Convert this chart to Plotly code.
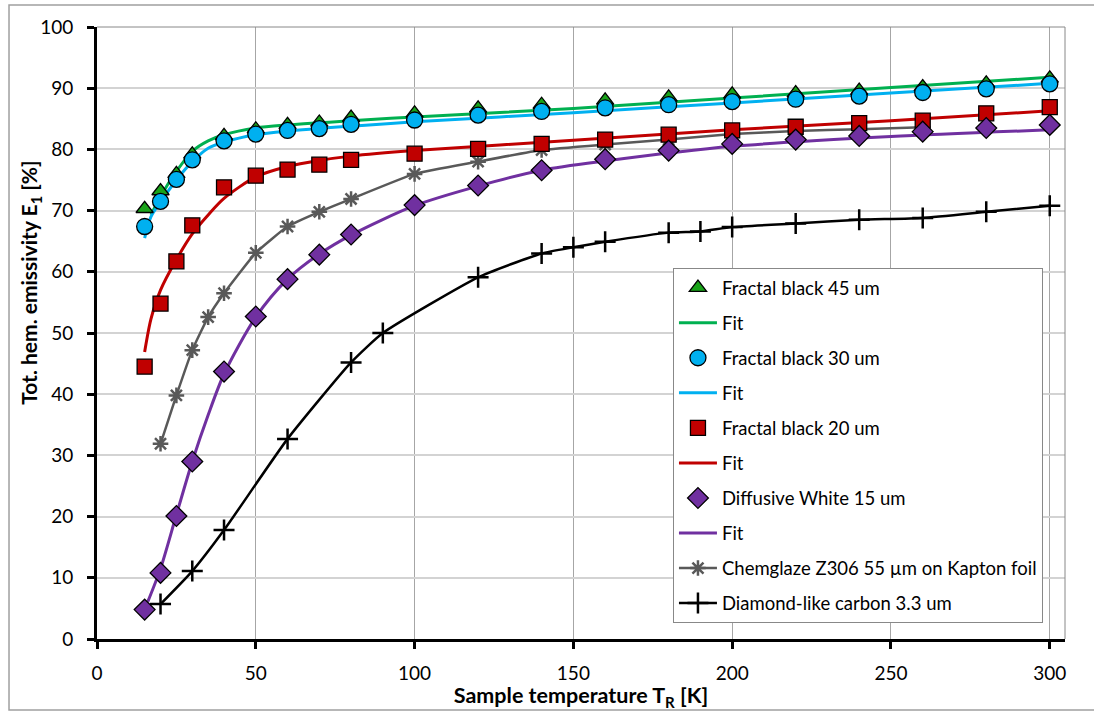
import plotly.graph_objects as go

# ---------------- data ----------------
T_fb45 = [15, 20, 25, 30, 40, 50, 60, 70, 80, 100, 120, 140, 160, 180, 200, 220, 240, 260, 280, 300]
E_fb45 = [70.3, 73.2, 76.0, 79.2, 82.2, 83.3, 84.0, 84.4, 85.2, 85.9, 86.7, 87.3, 88.0, 88.5, 89.0, 89.2, 89.6, 90.2, 90.8, 91.6]

T_fb30 = [15, 20, 25, 30, 40, 50, 60, 70, 80, 100, 120, 140, 160, 180, 200, 220, 240, 260, 280, 300]
E_fb30 = [67.4, 71.5, 75.1, 78.3, 81.4, 82.5, 83.1, 83.4, 84.1, 84.8, 85.6, 86.2, 86.8, 87.3, 87.8, 88.2, 88.7, 89.3, 89.9, 90.7]

T_fb20 = [15, 20, 25, 30, 40, 50, 60, 70, 80, 100, 120, 140, 160, 180, 200, 220, 240, 260, 280, 300]
E_fb20 = [44.5, 54.8, 61.7, 67.6, 73.8, 75.7, 76.7, 77.5, 78.3, 79.3, 80.1, 80.9, 81.6, 82.4, 83.1, 83.7, 84.3, 84.7, 85.9, 86.9]

T_dw15 = [15, 20, 25, 30, 40, 50, 60, 70, 80, 100, 120, 140, 160, 180, 200, 220, 240, 260, 280, 300]
E_dw15 = [4.8, 10.8, 20.1, 29.0, 43.7, 52.7, 58.8, 62.8, 66.1, 70.9, 74.1, 76.6, 78.4, 79.8, 80.9, 81.6, 82.2, 82.9, 83.5, 84.0]

T_chem = [20, 25, 30, 35, 40, 50, 60, 70, 80, 100, 120, 140, 160, 180, 200, 220, 240, 260]
E_chem = [31.9, 39.8, 47.2, 52.6, 56.5, 63.1, 67.4, 69.8, 71.9, 76.0, 78.0, 79.9, 80.8, 81.6, 82.5, 83.0, 83.3, 83.6]

T_dlc = [20, 30, 40, 60, 80, 90, 120, 140, 150, 160, 180, 190, 200, 220, 240, 260, 280, 300]
E_dlc = [5.7, 11.1, 17.8, 32.7, 45.2, 50.0, 59.1, 63.0, 64.0, 64.9, 66.4, 66.6, 67.3, 67.9, 68.5, 68.8, 69.8, 70.8]

# fit curves
T_fit45 = [17, 20, 25, 30, 35, 40, 50, 60, 80, 100, 150, 200, 250, 300]
E_fit45 = [69.3, 72.3, 76.4, 79.7, 81.4, 82.4, 83.5, 84.0, 84.7, 85.3, 86.7, 88.4, 90.1, 91.8]

T_fit30 = [15, 17, 20, 25, 30, 35, 40, 50, 60, 80, 100, 150, 200, 250, 300]
E_fit30 = [65.5, 69.0, 71.4, 75.0, 78.0, 80.2, 81.2, 82.4, 83.0, 83.8, 84.5, 86.0, 87.6, 89.2, 90.8]

T_fit20 = [15, 17, 20, 25, 30, 35, 40, 50, 60, 70, 80, 100, 150, 200, 250, 300]
E_fit20 = [46.9, 52.3, 57.0, 62.0, 66.2, 69.3, 72.0, 75.5, 77.2, 78.2, 78.9, 79.8, 81.5, 83.2, 84.7, 86.3]

T_fit15 = [16, 20, 25, 30, 35, 40, 50, 60, 70, 80, 100, 120, 140, 160, 200, 250, 300]
E_fit15 = [6.1, 11.5, 20.3, 29.0, 36.6, 43.3, 52.6, 58.8, 62.9, 66.0, 70.8, 74.0, 76.6, 78.1, 80.5, 82.1, 83.2]

x_ticks = [0, 50, 100, 150, 200, 250, 300]
y_ticks = [0, 10, 20, 30, 40, 50, 60, 70, 80, 90, 100]

# ---------------- styles ----------------
GREEN_M = "#1aa31a"
GREEN_L = "#00b050"
BLUE = "#00b0f0"
RED = "#c00000"
PURPLE = "#7030a0"
GRAY = "#595959"

fig = go.Figure()

def fit_trace(x, y, color, rank):
    return go.Scatter(x=x, y=y, mode="lines", name="Fit",
                      line=dict(color=color, width=3, shape="spline", smoothing=0.8),
                      legendrank=rank, legendgroup=f"g{rank}")

# lines first
fig.add_trace(fit_trace(T_fit45, E_fit45, GREEN_L, 2))
fig.add_trace(fit_trace(T_fit30, E_fit30, BLUE, 4))
fig.add_trace(fit_trace(T_fit20, E_fit20, RED, 6))
fig.add_trace(fit_trace(T_fit15, E_fit15, PURPLE, 8))

fig.add_trace(go.Scatter(x=T_chem, y=E_chem, mode="lines+markers",
                         name="Chemglaze Z306 55 µm on Kapton foil",
                         line=dict(color=GRAY, width=2.5, shape="spline", smoothing=0.4),
                         marker=dict(symbol="asterisk-open", size=13, color=GRAY,
                                     line=dict(color=GRAY, width=2.5)),
                         legendrank=9, legendgroup="g9"))
fig.add_trace(go.Scatter(x=T_dlc, y=E_dlc, mode="lines+markers",
                         name="Diamond-like carbon 3.3 um",
                         line=dict(color="black", width=2.5, shape="spline", smoothing=0.5),
                         marker=dict(symbol="cross-thin-open", size=15, color="black",
                                     line=dict(color="black", width=2.5)),
                         legendrank=10, legendgroup="g10"))

def marker_trace(x, y, name, symbol, color, size, rank):
    return go.Scatter(x=x, y=y, mode="markers", name=name,
                      marker=dict(symbol=symbol, size=size, color=color,
                                  line=dict(color="black", width=1.3)),
                      legendrank=rank, legendgroup=f"g{rank}")

fig.add_trace(marker_trace(T_fb45, E_fb45, "Fractal black 45 um", "triangle-up", GREEN_M, 15, 1))
fig.add_trace(marker_trace(T_fb30, E_fb30, "Fractal black 30 um", "circle", BLUE, 16, 3))
fig.add_trace(marker_trace(T_fb20, E_fb20, "Fractal black 20 um", "square", RED, 15, 5))
fig.add_trace(marker_trace(T_dw15, E_dw15, "Diffusive White 15 um", "diamond", PURPLE, 16, 7))

fig.update_layout(
    width=1094, height=711,
    margin=dict(l=97, r=29, t=27, b=72),
    plot_bgcolor="white", paper_bgcolor="white",
    font=dict(family="Lato", size=19, color="black"),
    legend=dict(x=0.595, y=0.606, xanchor="left", yanchor="top",
                bgcolor="white", bordercolor="#888888", borderwidth=1,
                font=dict(size=18.5), tracegroupgap=8, traceorder="grouped",
                itemwidth=38),
    showlegend=True,
)

fig.update_xaxes(range=[0, 304.8], tickvals=x_ticks, showline=True, linecolor="black",
                 linewidth=3, ticks="outside", ticklen=7, tickwidth=2.5, tickcolor="black",
                 ticklabelstandoff=8, automargin=False,
                 showgrid=True, gridcolor="#a6a6a6", gridwidth=1, zeroline=False,
                 title=dict(text="<b>Sample temperature T<sub>R</sub> [K]</b>", standoff=6,
                            font=dict(size=21.5)))
fig.update_yaxes(range=[0, 100], tickvals=y_ticks, showline=True, linecolor="black",
                 linewidth=3, ticks="outside", ticklen=7, tickwidth=2.5, tickcolor="black",
                 ticklabelstandoff=10, automargin=False,
                 showgrid=True, gridcolor="#d3d3d3", gridwidth=2, zeroline=False)

# y-axis title as rotated annotation
fig.add_annotation(text="<b>Tot. hem. emissivity E<sub>1</sub> [%]</b>", xref="paper", yref="paper",
                   x=-0.0692, y=0.582, textangle=-90, showarrow=False,
                   font=dict(size=21), xanchor="center", yanchor="middle")

# plot-area border (top/right) and outer chart frame
fig.add_shape(type="line", xref="paper", yref="paper", x0=0, x1=1, y0=1, y1=1,
              line=dict(color="#888888", width=1))
fig.add_shape(type="line", xref="paper", yref="paper", x0=1, x1=1, y0=0, y1=1,
              line=dict(color="#888888", width=1))
fig.add_shape(type="rect", xref="paper", yref="paper", x0=-0.0909, x1=1.05, y0=-0.116, y1=1.036,
              line=dict(color="#a0a0a0", width=1.5), layer="below")

fig.write_html("out.html", config={"displayModeBar": False},
               post_script="document.body.style.margin='0px';document.body.style.overflow='hidden';")
